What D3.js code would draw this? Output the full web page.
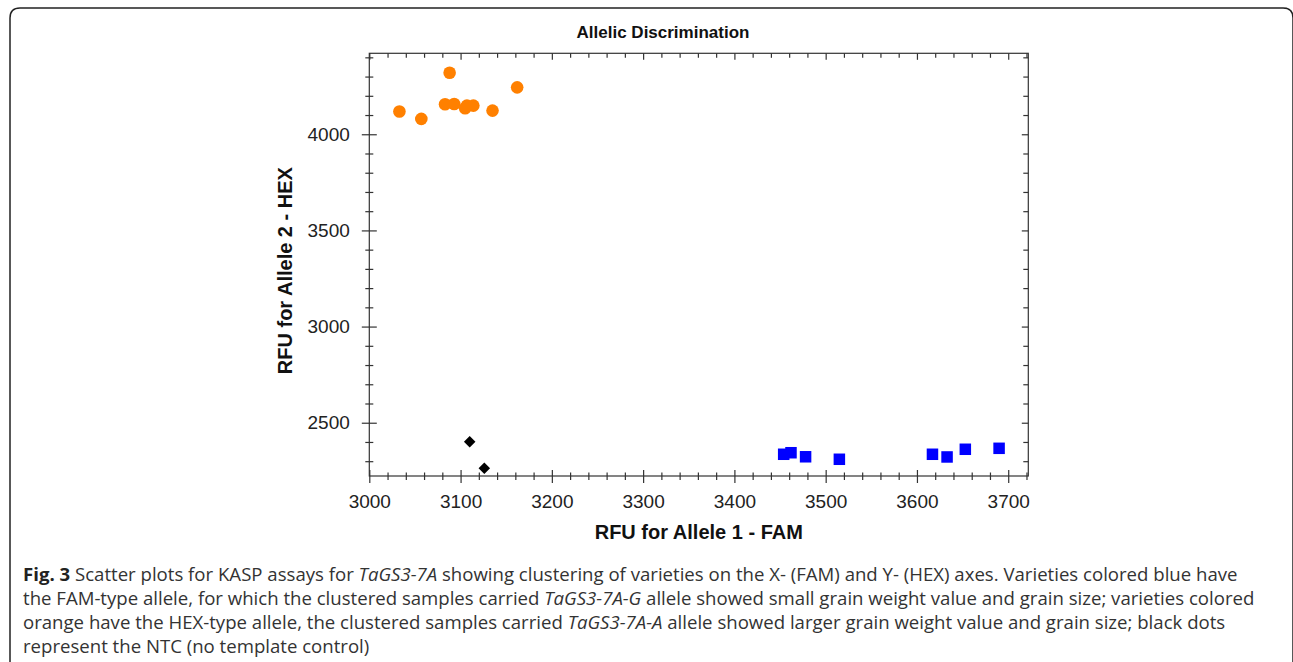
<!DOCTYPE html>
<html>
<head>
<meta charset="utf-8">
<script src="https://d3js.org/d3.v7.min.js"></script>
<style>
  body { margin: 0; background: #fff; }
  svg { display: block; }
</style>
</head>
<body>
<div id="chart"></div>
<script>
// Axis tick labels
const xTicks = [3000, 3100, 3200, 3300, 3400, 3500, 3600, 3700];
const yTicks = [2500, 3000, 3500, 4000];

// HEX-type (orange) samples
const hexFam = [3033, 3057, 3083, 3088, 3093, 3105, 3107, 3114, 3135, 3162];
const hexHex = [4118, 4080, 4156, 4320, 4157, 4135, 4149, 4149, 4123, 4244];

// FAM-type (blue) samples
const famFam = [3454, 3462, 3478, 3515, 3617, 3633, 3653, 3690];
const famHex = [2336, 2344, 2323, 2310, 2336, 2322, 2362, 2367];

// NTC (black)
const ntcFam = [3110, 3126];
const ntcHex = [2401, 2263];

const W = 1293, H = 662;
const plot = { left: 369.3, right: 1028.3, top: 53.3, bottom: 476 };
const axisColor = "#333";
const chartFont = "'Liberation Sans', Arial, sans-serif";

const svg = d3.select("#chart").append("svg")
  .attr("width", W)
  .attr("height", H);

// Rounded frame (open at the bottom)
svg.append("path")
  .attr("d", "M10,662 V18 Q10,8 20,8 H1283 Q1293,8 1293,18 V662")
  .attr("fill", "none")
  .attr("stroke", "#222")
  .attr("stroke-width", 1.5);

const x = d3.scaleLinear().domain([3000, 3722]).range([plot.left, plot.right]);
const y = d3.scaleLinear().domain([2223, 4421]).range([plot.bottom, plot.top]);

const xMinor = d3.range(3020, 3722, 20).filter(v => v % 100 !== 0);
const yMinor = d3.range(2300, 4421, 100).filter(v => v % 500 !== 0);

// Plot frame
svg.append("rect")
  .attr("x", plot.left)
  .attr("y", plot.top)
  .attr("width", plot.right - plot.left)
  .attr("height", plot.bottom - plot.top)
  .attr("fill", "none")
  .attr("stroke", axisColor)
  .attr("stroke-width", 1.2);

// helper to style an axis group
const styleAxis = (g) => {
  g.select(".domain").remove();
  g.selectAll(".tick line").attr("stroke", axisColor).attr("stroke-width", 1.2);
  g.selectAll(".tick text")
    .style("font-family", chartFont)
    .style("font-size", "19px")
    .attr("fill", "#222");
};

// Bottom axis: major ticks cross the line
const gBottom = svg.append("g")
  .attr("transform", `translate(0,${plot.bottom})`)
  .call(d3.axisBottom(x).tickValues(xTicks).tickSize(7).tickPadding(12).tickFormat(d3.format("d")))
  .call(styleAxis);
gBottom.selectAll(".tick line").attr("y1", -6);

svg.append("g")
  .attr("transform", `translate(0,${plot.bottom})`)
  .call(d3.axisBottom(x).tickValues(xMinor).tickSize(4).tickFormat(""))
  .call(styleAxis)
  .selectAll(".tick line").attr("y1", -3.5);

// Left axis
const gLeft = svg.append("g")
  .attr("transform", `translate(${plot.left},0)`)
  .call(d3.axisLeft(y).tickValues(yTicks).tickSize(7.5).tickPadding(12).tickFormat(d3.format("d")))
  .call(styleAxis);
gLeft.selectAll(".tick line").attr("x1", 7.5);

svg.append("g")
  .attr("transform", `translate(${plot.left},0)`)
  .call(d3.axisLeft(y).tickValues(yMinor).tickSize(4).tickFormat(""))
  .call(styleAxis)
  .selectAll(".tick line").attr("x1", 4);

// Top axis: inward ticks only
svg.append("g")
  .attr("transform", `translate(0,${plot.top})`)
  .call(d3.axisBottom(x).tickValues(xTicks).tickSize(6.5).tickFormat(""))
  .call(styleAxis);
svg.append("g")
  .attr("transform", `translate(0,${plot.top})`)
  .call(d3.axisBottom(x).tickValues(xMinor).tickSize(4.5).tickFormat(""))
  .call(styleAxis);

// Right axis: inward ticks only
svg.append("g")
  .attr("transform", `translate(${plot.right},0)`)
  .call(d3.axisLeft(y).tickValues(yTicks).tickSize(6.5).tickFormat(""))
  .call(styleAxis);
svg.append("g")
  .attr("transform", `translate(${plot.right},0)`)
  .call(d3.axisLeft(y).tickValues(yMinor).tickSize(5).tickFormat(""))
  .call(styleAxis);

// Title and axis titles
svg.append("text")
  .attr("x", 663)
  .attr("y", 38)
  .attr("text-anchor", "middle")
  .style("font-family", chartFont)
  .style("font-size", "17px")
  .style("font-weight", "bold")
  .attr("fill", "#111")
  .text("Allelic Discrimination");

svg.append("text")
  .attr("x", (plot.left + plot.right) / 2)
  .attr("y", 539)
  .attr("text-anchor", "middle")
  .style("font-family", chartFont)
  .style("font-size", "20px")
  .style("font-weight", "bold")
  .attr("fill", "#111")
  .text("RFU for Allele 1 - FAM");

svg.append("text")
  .attr("transform", `translate(292,${(plot.top + plot.bottom) / 2 + 6}) rotate(-90)`)
  .attr("text-anchor", "middle")
  .style("font-family", chartFont)
  .style("font-size", "20px")
  .style("font-weight", "bold")
  .attr("fill", "#111")
  .text("RFU for Allele 2 - HEX");

// Points
const hexData = hexFam.map((v, i) => ({ fam: v, hex: hexHex[i] }));
const famData = famFam.map((v, i) => ({ fam: v, hex: famHex[i] }));
const ntcData = ntcFam.map((v, i) => ({ fam: v, hex: ntcHex[i] }));

svg.append("g").selectAll("circle")
  .data(hexData)
  .enter().append("circle")
  .attr("cx", d => x(d.fam))
  .attr("cy", d => y(d.hex))
  .attr("r", 6.3)
  .attr("fill", "#ff8000");

const sq = 11.5;
svg.append("g").selectAll("rect")
  .data(famData)
  .enter().append("rect")
  .attr("x", d => x(d.fam) - sq / 2)
  .attr("y", d => y(d.hex) - sq / 2)
  .attr("width", sq)
  .attr("height", sq)
  .attr("fill", "#0000ff");

const diamond = d3.symbol().type(d3.symbolSquare).size(66);
svg.append("g").selectAll("path")
  .data(ntcData)
  .enter().append("path")
  .attr("d", diamond)
  .attr("transform", d => `translate(${x(d.fam)},${y(d.hex)}) rotate(45)`)
  .attr("fill", "#000");

// Caption
const captionLines = [
  [["b", "Fig. 3"], ["n", " Scatter plots for KASP assays for "], ["i", "TaGS3-7A"], ["n", " showing clustering of varieties on the X- (FAM) and Y- (HEX) axes. Varieties colored blue have"]],
  [["n", "the FAM-type allele, for which the clustered samples carried "], ["i", "TaGS3-7A-G"], ["n", " allele showed small grain weight value and grain size; varieties colored"]],
  [["n", "orange have the HEX-type allele, the clustered samples carried "], ["i", "TaGS3-7A-A"], ["n", " allele showed larger grain weight value and grain size; black dots"]],
  [["n", "represent the NTC (no template control)"]]
];

const caption = svg.append("g")
  .style("font-family", "'Open Sans', 'Noto Sans', sans-serif")
  .style("font-size", "18.6px")
  .attr("fill", "#333");

captionLines.forEach((line, i) => {
  const t = caption.append("text")
    .attr("x", 23)
    .attr("y", 581 + i * 24);
  line.forEach(([kind, str]) => {
    const s = t.append("tspan").text(str);
    if (kind === "b") s.style("font-weight", "bold").attr("fill", "#222");
    if (kind === "i") s.style("font-style", "italic");
  });
});
</script>
</body>
</html>
